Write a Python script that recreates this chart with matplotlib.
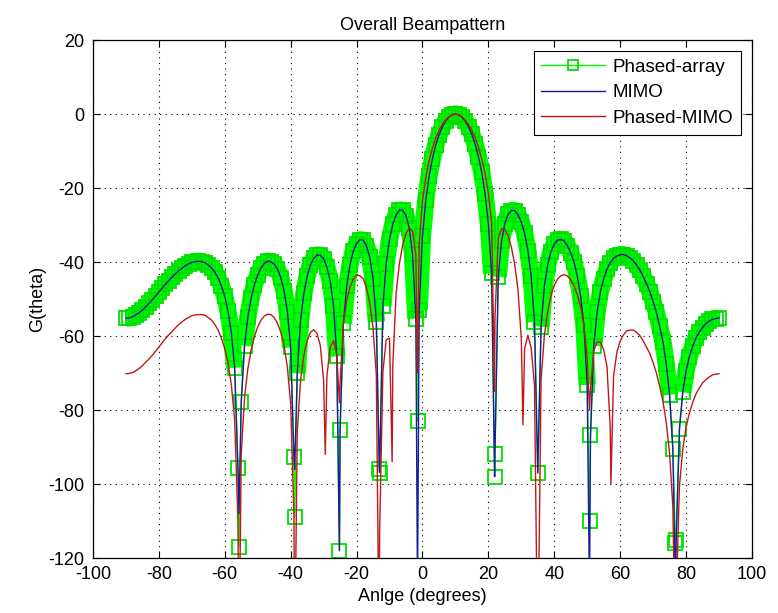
import numpy as np
import matplotlib
matplotlib.use('Agg')
import matplotlib.pyplot as plt

plt.rcParams['font.family'] = ['Liberation Sans', 'DejaVu Sans']
plt.rcParams['axes.unicode_minus'] = False

# angle grid used for the sampled beampatterns (degrees, 1 deg steps)
angle_grid = np.arange(-90, 91)

# phased-array overall beampattern (dB), -90 .. 90
phased_db = [
    -55.2, -55.1, -54.8, -54.3, -53.7, -53.0, -52.1, -51.2, -50.2, -49.2,
    -48.1, -47.0, -46.0, -45.0, -44.1, -43.2, -42.4, -41.7, -41.0, -40.5,
    -40.1, -39.9, -39.8, -39.9, -40.2, -40.8, -41.6, -42.8, -44.3, -46.5,
    -49.3, -53.3, -59.1, -68.6, -95.6, -77.8, -62.6, -54.9, -49.8, -46.1,
    -43.5, -41.6, -40.4, -39.8, -39.9, -40.6, -41.9, -44.2, -47.8, -53.4,
    -63.1, -92.8, -70.1, -55.8, -48.5, -43.9, -40.8, -39.0, -38.1, -38.2,
    -39.1, -41.4, -45.1, -51.8, -65.5, -85.3, -56.6, -46.6, -40.8, -37.1,
    -35.0, -34.0, -34.1, -35.6, -38.7, -44.5, -56.2, -96.9, -51.9, -40.4,
    -33.9, -29.8, -27.3, -26.0, -26.0, -27.5, -30.8, -37.9, -55.3, -53.0,
    -33.0, -23.3, -16.8, -12.2, -8.5, -5.7, -3.6, -1.9, -0.9, -0.2,
    0.0, -0.2, -0.9, -1.9, -3.5, -5.5, -8.2, -11.6, -15.8, -21.5,
    -29.6, -43.1, -91.8, -44.0, -34.4, -29.6, -27.1, -26.1, -26.1, -27.2,
    -29.2, -32.2, -36.9, -43.9, -56.2, -97.0, -57.5, -46.5, -40.8, -37.2,
    -35.2, -34.1, -33.9, -34.3, -35.6, -37.5, -40.0, -43.9, -49.2, -57.1,
    -73.2, -86.8, -62.6, -53.5, -48.1, -44.6, -41.9, -40.2, -39.0, -38.4,
    -38.0, -38.0, -38.3, -38.9, -39.7, -40.8, -42.2, -43.9, -45.9, -48.0,
    -50.7, -53.6, -57.4, -61.6, -67.6, -75.9, -90.5, -115.1, -85.1, -75.2,
    -69.4, -65.6, -62.8, -60.5, -59.0, -57.7, -56.7, -56.0, -55.5, -55.3, -55.1,
]

# MIMO curve lies on top of the phased-array curve
mimo_db = list(phased_db)

# phased-MIMO overall beampattern (dB), -90 .. 90
phased_mimo_db = [
    -70.2, -70.1, -69.9, -69.4, -68.8, -68.0, -67.1, -66.2, -65.2, -64.1,
    -63.0, -61.8, -60.7, -59.7, -58.8, -57.8, -56.9, -56.2, -55.5, -55.0,
    -54.5, -54.3, -54.2, -54.2, -54.4, -55.0, -55.7, -56.9, -58.4, -60.7,
    -63.4, -67.3, -73.2, -82.7, -109.6, -91.9, -76.7, -68.9, -63.8, -60.2,
    -57.5, -55.7, -54.6, -54.1, -54.2, -55.0, -56.6, -58.9, -62.6, -68.4,
    -78.3, -108.3, -85.8, -72.0, -65.2, -61.3, -59.0, -58.3, -59.3, -62.6,
    -72.0, -70.8, -63.0, -61.3, -65.0, -72.7, -56.7, -50.5, -46.8, -44.6,
    -43.6, -43.7, -44.5, -46.9, -51.0, -57.7, -70.5, -112.6, -69.6, -61.0,
    -60.6, -67.9, -48.5, -40.4, -35.4, -32.3, -30.8, -31.6, -38.2, -35.1,
    -23.5, -17.2, -12.7, -9.3, -6.6, -4.5, -2.9, -1.7, -0.7, -0.2,
    0.0, -0.2, -0.7, -1.7, -2.9, -4.4, -6.4, -9.0, -12.2, -16.0,
    -21.3, -29.5, -55.5, -33.6, -31.0, -31.2, -33.0, -36.0, -40.7, -47.5,
    -60.7, -63.5, -59.8, -63.2, -73.3, -150.0, -71.8, -59.9, -53.4, -49.1,
    -46.3, -44.6, -43.7, -43.4, -43.8, -44.8, -46.4, -48.8, -52.1, -57.0,
    -66.2, -74.3, -64.0, -61.6, -61.6, -63.7, -68.2, -84.9, -70.9, -64.4,
    -61.4, -59.7, -58.6, -58.4, -58.4, -59.0, -59.9, -61.3, -63.0, -64.7,
    -67.2, -70.0, -73.6, -77.7, -83.4, -91.6, -106.2, -130.7, -100.6, -90.6,
    -84.7, -80.9, -78.0, -75.7, -74.1, -72.7, -71.8, -71.1, -70.5, -70.3, -70.2,
]

# extra samples in the nulls (deepest visible points)
null_angles = [-55.7, -38.8, -25.2, -13.1, -1.5, 21.9, 50.7, 76.8]
phased_null_db = [-117, -109, -118, -96, -83, -98, -110, -116]
mimo_null_db = [-108, -96, -118, -96, -130, -98, -130, -130]

pm_null_angles = [-55.7, -38.8, -29.5, -25.2, -13.1, -9.2, -1.5, 21.9, 30.5, 50.7, 57.2, 76.8]
pm_null_db = [-150, -150, -92, -78, -150, -94, -70, -75, -84, -80, -100, -150]


def merge(x, y, x_extra, y_extra):
    xs = np.concatenate([np.asarray(x, float), np.asarray(x_extra, float)])
    ys = np.concatenate([np.asarray(y, float), np.asarray(y_extra, float)])
    order = np.argsort(xs)
    return xs[order], ys[order]


x_pa, y_pa = merge(angle_grid, phased_db, null_angles, phased_null_db)
x_mi, y_mi = merge(angle_grid, mimo_db, null_angles, mimo_null_db)
x_pm, y_pm = merge(angle_grid, phased_mimo_db, pm_null_angles, pm_null_db)

fig = plt.figure(figsize=(7.78, 6.13), dpi=100)
ax = fig.add_axes([0.1195, 0.0897, 0.847, 0.845])

# solid green band under the square markers (only where samples are dense)
ax.plot(x_pa, np.where(y_pa > -76, y_pa, np.nan), color='#00ff00', lw=12.5,
        solid_capstyle='butt', solid_joinstyle='round', zorder=2)
ax.plot(x_pa, y_pa, '-', color='#00ff00', lw=1, marker='s', ms=10,
        mfc='none', mec='#00e000', mew=1.3, label='Phased-array', zorder=2.5)
ax.plot(x_mi, y_mi, color='#1a1aa0', lw=1.0, label='MIMO', zorder=3)
ax.plot(x_pm, y_pm, color='#c01818', lw=1.0, label='Phased-MIMO', zorder=4)

ax.set_xlim(-100, 100)
ax.set_ylim(-120, 20)
ax.set_xticks(np.arange(-100, 101, 20))
ax.set_yticks(np.arange(-120, 21, 20))
ax.tick_params(direction='in', top=True, right=True, length=5, width=0.8,
               labelsize=13, pad=6)
for s in ax.spines.values():
    s.set_linewidth(0.9)

ax.grid(True, color='k', linestyle=(0, (1, 4)), linewidth=0.8)
ax.set_axisbelow(True)

ax.set_title('Overall Beampattern', fontsize=13, pad=7)
ax.set_xlabel('Anlge (degrees)', fontsize=13, labelpad=3)
ax.set_ylabel('G(theta)', fontsize=13, labelpad=2)

leg = ax.legend(loc='upper right', fontsize=13.5, frameon=True, fancybox=False,
                edgecolor='k', framealpha=1, borderaxespad=0.6, handlelength=3.4,
                handletextpad=0.4, labelspacing=0.45, borderpad=0.4, numpoints=1)
leg.get_frame().set_linewidth(0.8)
leg.legend_handles[0].set_markersize(7)

fig.savefig('out.png', dpi=100)
